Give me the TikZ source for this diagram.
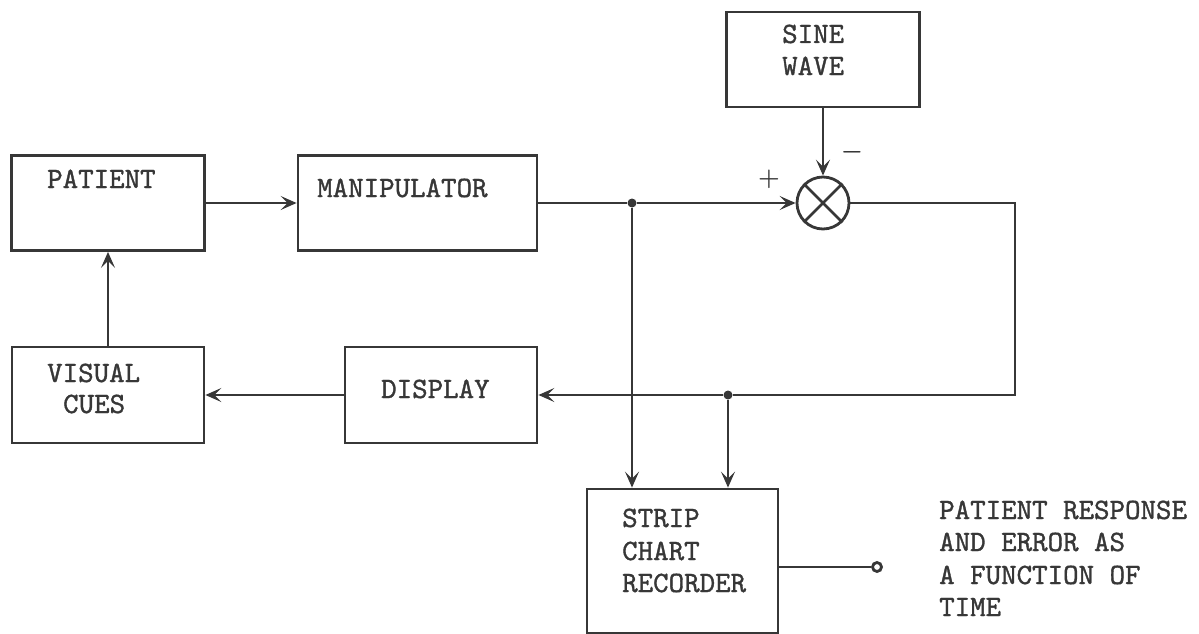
\documentclass[tikz,border=0pt]{standalone}
\usepackage{fontspec}
\newfontfamily\tw{lmmono10-regular.otf}[FakeBold=1.2]
\usetikzlibrary{arrows.meta}
\definecolor{ink}{RGB}{55,55,55}
\begin{document}
\begin{tikzpicture}[x=1pt,y=-1pt,
  blk/.style={draw=ink, line width=2.8pt, rectangle, inner sep=0pt},
  txt/.style={anchor=base west, inner sep=0pt, text=ink, font=\fontsize{29.5}{32}\selectfont\tw},
  sgn/.style={inner sep=0pt, text=ink, font=\fontsize{26}{28}\selectfont\boldmath},
  conn/.style={draw=ink, line width=2.8pt, -{Stealth[length=16pt,width=14pt,inset=7pt]}},
  wire/.style={draw=ink, line width=2.8pt},
  dot/.style={circle, fill=ink, inner sep=0pt, minimum size=9pt}
]
\useasboundingbox (0,0) rectangle (1199,634);
% boxes
\node[blk, minimum width=193pt, minimum height=95pt] (patient) at (108,203) {};
\node[blk, minimum width=239pt, minimum height=95pt] (manip) at (417.5,203) {};
\node[blk, minimum width=192pt, minimum height=96pt] (visual) at (108,395) {};
\node[blk, minimum width=192pt, minimum height=96pt] (display) at (441,395) {};
\node[blk, minimum width=193pt, minimum height=95pt] (sine) at (823,59.5) {};
\node[blk, minimum width=191pt, minimum height=144pt] (strip) at (682.5,561) {};
\node[draw=ink, line width=2.8pt, circle, minimum size=52pt, inner sep=0pt] (sum) at (823,203) {};
\draw[wire] (sum.45) -- (sum.225);
\draw[wire] (sum.135) -- (sum.315);
% junctions
\node[dot] (j1) at (632,203) {};
\node[dot] (j2) at (728,395) {};
\coordinate (c1) at (1015,203);
\coordinate (c2) at (1015,395);
\node[draw=ink, line width=2.8pt, circle, inner sep=0pt, minimum size=9pt] (term) at (877,567) {};
% texts
\node[txt] (tpatient) at (47,188) {PATIENT};
\node[txt] (tmanip) at (317,197) {MANIPULATOR};
\node[txt] (tvisual) at (47,382) {VISUAL};
\node[txt] (tcues) at (63,413) {CUES};
\node[txt] (tdisplay) at (381,398) {DISPLAY};
\node[txt] (tsine) at (782,43) {SINE};
\node[txt] (twave) at (782,75) {WAVE};
\node[txt] (tstrip) at (622,527) {STRIP};
\node[txt] (tchart) at (622,560) {CHART};
\node[txt] (trec) at (622,592) {RECORDER};
\node[txt] (o1) at (939,519) {PATIENT RESPONSE};
\node[txt] (o2) at (939,551) {AND ERROR AS};
\node[txt] (o3) at (939,584) {A FUNCTION OF};
\node[txt] (o4) at (939,616) {TIME};
\node[sgn] (plus) at (769,179) {$+$};
\node[sgn] (minus) at (852,152) {$-$};
% connectors
\draw[conn] (patient.east) -- (manip.west);
\draw[wire] (manip.east) -- (j1);
\draw[conn] (j1) -- (sum.west);
\draw[conn] (sine.south -| sum.north) -- (sum.north);
\draw[wire] (sum.east) -- (c1) -- (c2) -- (j2);
\draw[conn] (j2) -- (display.east);
\draw[conn] (display.west) -- (visual.east);
\draw[conn] (visual.north) -- (patient.south);
\draw[conn] (j1) -- (j1 |- strip.north);
\draw[conn] (j2) -- (j2 |- strip.north);
\draw[wire] (strip.east |- term) -- (term.west);
\end{tikzpicture}
\end{document}
